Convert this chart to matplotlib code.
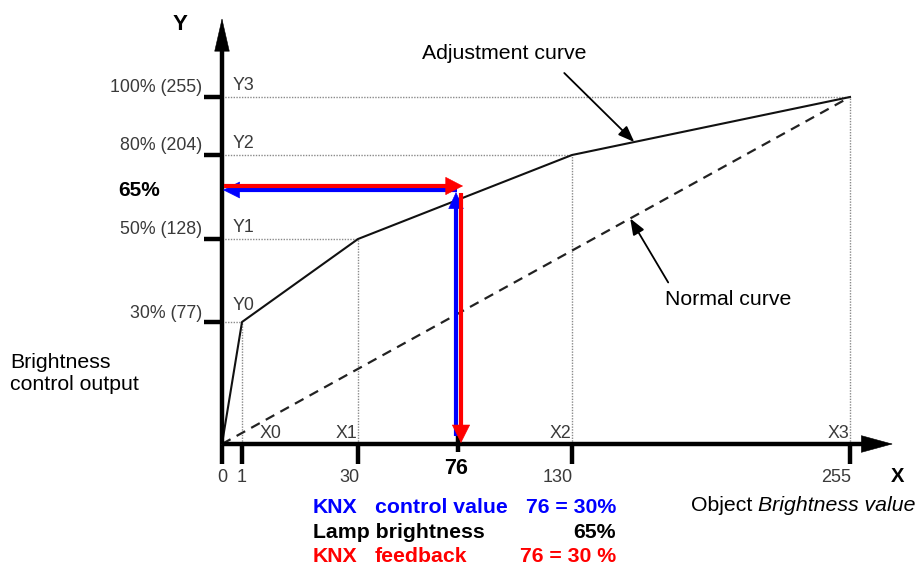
import numpy as np
import matplotlib
matplotlib.use("Agg")
import matplotlib.pyplot as plt
from matplotlib.transforms import ScaledTranslation
from matplotlib.ticker import NullLocator

plt.rcParams['font.family'] = ['Liberation Sans', 'DejaVu Sans']

# ---------------- data ----------------
x_ticks = [0, 1, 30, 130, 255]
x_tick_labels = ['0', '1', '30', '130', '255']
y_ticks = [77, 128, 204, 255]
y_tick_labels = ['30% (77)', '50% (128)', '80% (204)', '100% (255)']
adj_x = [0, 1, 30, 130, 255]          # adjustment curve (object value)
adj_y = [0, 77, 128, 204, 255]        # adjustment curve (output)
knot_names_x = ['X0', 'X1', 'X2', 'X3']
knot_names_y = ['Y0', 'Y1', 'Y2', 'Y3']
normal_x = [0, 255]
normal_y = [0, 255]
control_value = 76
lamp_pct = 65
lamp_y = lamp_pct / 100 * 255
legend_rows = [
    ('KNX', 'control value', '76 = 30%', '#0000ff'),
    ('Lamp brightness', '', '65%', '#000000'),
    ('KNX', 'feedback', '76 = 30 %', '#ff0000'),
]

# ---------------- schematic layout (non-linear axes of the drawing) ----------------
W, H = 920, 565
X_REF = [0, 1, 30, control_value, 130, 255]
X_PIX = [222, 242, 358, 458, 572, 850]
Y_REF = [0, 77, 128, lamp_y, 204, 255]
Y_PIX = [444, 322, 239, 188, 155, 97]


def piecewise(src, dst):
    src = np.asarray(src, float)
    dst = np.asarray(dst, float)
    lo_s = (dst[1] - dst[0]) / (src[1] - src[0])
    hi_s = (dst[-1] - dst[-2]) / (src[-1] - src[-2])

    def f(v):
        v = np.asarray(v, float)
        out = np.interp(v, src, dst)
        out = np.where(v < src[0], dst[0] + (v - src[0]) * lo_s, out)
        out = np.where(v > src[-1], dst[-1] + (v - src[-1]) * hi_s, out)
        return out
    return f


Y_H = [H - p for p in Y_PIX]
fx, ix = piecewise(X_REF, X_PIX), piecewise(X_PIX, X_REF)
fy, iy = piecewise(Y_REF, Y_H), piecewise(Y_H, Y_REF)

fig = plt.figure(figsize=(W / 100, H / 100), dpi=100)
ax = fig.add_axes([0, 0, 1, 1])
ax.set_xscale('function', functions=(fx, ix))
ax.set_yscale('function', functions=(fy, iy))
ax.set_xlim(float(ix(0)), float(ix(W)))
ax.set_ylim(float(iy(0)), float(iy(H)))


def off(dx, dy):
    return ax.transData + ScaledTranslation(dx / 100, dy / 100, fig.dpi_scale_trans)


def px(x, y):
    return x / W, 1 - y / H


def arrow(xy, xycoords, xytext, textcoords, color, lw, head_len, head_w, z):
    """thick shaft + crisp filled head (sizes in points)"""
    ax.annotate('', xy=xy, xycoords=xycoords, xytext=xytext, textcoords=textcoords,
                arrowprops=dict(arrowstyle='-', lw=lw, color=color, shrinkA=0,
                                shrinkB=head_len * 0.6, capstyle='butt'), zorder=z)
    ax.annotate('', xy=xy, xycoords=xycoords, xytext=xytext, textcoords=textcoords,
                arrowprops=dict(arrowstyle=f'-|>,head_length={head_len / 10},'
                                           f'head_width={head_w / 20}',
                                mutation_scale=10, lw=0.4, color=color,
                                shrinkA=0, shrinkB=0), zorder=z)


# ticks (marks only) on invisible spines at data 0
for s in ax.spines.values():
    s.set_visible(False)
ax.spines['left'].set_position(('data', 0))
ax.spines['bottom'].set_position(('data', 0))
ax.set_xticks(x_ticks)
ax.set_xticks([control_value], minor=True)
ax.set_yticks(y_ticks)
ax.yaxis.set_minor_locator(NullLocator())
ax.tick_params(axis='x', which='major', direction='out', length=14.4, width=3.2,
               color='k', labelbottom=False)
ax.tick_params(axis='x', which='minor', direction='inout', length=11, width=3.2,
               color='k', labelbottom=False)
ax.tick_params(axis='y', which='major', direction='out', length=13, width=3.2,
               color='k', labelleft=False)

grey = '#8a8a8a'
txt_grey = '#3a3a3a'

# dotted guide lines
for xv, yv in zip(adj_x[1:], adj_y[1:]):
    ax.plot([0, xv], [yv, yv], color=grey, lw=1.0, ls=(0, (1, 1)), zorder=1)
    ax.plot([xv, xv], [0, yv], color=grey, lw=1.0, ls=(0, (1, 1)), zorder=1)

# curves
ax.plot(adj_x, adj_y, color='#111111', lw=1.5, zorder=3)
ax.plot(normal_x, normal_y, color='#222222', lw=1.6, dashes=(4.4, 3.1), zorder=3)

# axis arrows
arrow((893 / W, 0), ('axes fraction', 'data'), (0, 0), 'data', 'k', 3.2, 22, 12, 4)
arrow((0, 1 - 18 / H), ('data', 'axes fraction'), (0, 0), 'data', 'k', 3.2, 23, 10.5, 4)

# tick labels
for yv, lab in zip(y_ticks, y_tick_labels):
    ax.annotate(lab, (0, yv), xytext=(-20, 9), textcoords='offset pixels',
                ha='right', va='center', fontsize=12.8, color=txt_grey)
for xv, lab in zip(x_ticks, x_tick_labels):
    ha = 'center' if xv <= 1 else 'right'
    dx = 0 if xv <= 1 else 1
    ax.annotate(lab, (xv, 0), xytext=(dx, -33), textcoords='offset pixels',
                ha=ha, va='center', fontsize=13, color=txt_grey)
ax.annotate(str(control_value), (control_value, 0), xytext=(-2, -25),
            textcoords='offset pixels', ha='center', va='center',
            fontsize=15.5, fontweight='bold', color='k')
ax.annotate(f'{lamp_pct}%', (0, lamp_y), xytext=(-83, -2), textcoords='offset pixels',
            ha='center', va='center', fontsize=15, fontweight='bold', color='k')

# knot names
for i, (yv, name) in enumerate(zip(adj_y[1:], knot_names_y)):
    ax.annotate(name, (0, yv), xytext=(11, 17 if i == 0 else 12),
                textcoords='offset pixels', ha='left', va='center',
                fontsize=12.8, color=txt_grey)
for i, (xv, name) in enumerate(zip(adj_x[1:], knot_names_x)):
    ha = 'left' if i == 0 else 'right'
    dx = 18 if i == 0 else -1
    ax.annotate(name, (xv, 0), xytext=(dx, 11), textcoords='offset pixels',
                ha=ha, va='center', fontsize=12.8, color=txt_grey)

# coloured value arrows
blue, red = '#0000ff', '#ff0000'
# blue: control value up to curve, then left to Y axis
arrow((control_value, lamp_y), off(-2, -4), (control_value, 0), off(-2, 8),
      blue, 3, 11.5, 10.5, 5)
arrow((0, lamp_y), off(1, -2), (control_value, lamp_y), off(-1, -2),
      blue, 3, 11.5, 11.5, 5)
# red: feedback from Y axis to curve, then down to X axis
arrow((control_value, lamp_y), off(5, 2), (0, lamp_y), off(2, 2),
      red, 3, 12, 12.5, 6)
arrow((control_value, 0), off(3, 1), (control_value, lamp_y), off(3, -5),
      red, 3, 12.5, 12.5, 6)

# annotation arrows
thin = dict(arrowstyle='-|>,head_length=0.65,head_width=0.25', mutation_scale=15,
            lw=1.3, color='k', shrinkA=0, shrinkB=0)
tx = 158
ty = float(np.interp(tx, adj_x, adj_y))
ax.annotate('', xy=(tx, ty), xytext=(-70, 69), textcoords='offset pixels', arrowprops=thin)
ax.annotate('Adjustment curve', xy=(tx, ty), xytext=(-130, 89), textcoords='offset pixels',
            ha='center', va='center', fontsize=15.3, color='k')

fig.canvas.draw()
p0 = ax.transData.transform((normal_x[0], normal_y[0]))
p1 = ax.transData.transform((normal_x[1], normal_y[1]))
tip = p0 + 0.65 * (p1 - p0)
ax.annotate('', xy=tuple(tip), xycoords='figure pixels', xytext=(38, -64),
            textcoords='offset pixels', arrowprops=thin)
ax.annotate('Normal curve', xy=tuple(tip), xycoords='figure pixels', xytext=(98, -81),
            textcoords='offset pixels', ha='center', va='center', fontsize=15.3, color='k')

# axis names
fig.text(*px(180, 25), 'Y', ha='center', va='center', fontsize=16, fontweight='bold')
fig.text(*px(898, 477), 'X', ha='center', va='center', fontsize=14.5, fontweight='bold')
fig.text(*px(10, 362), 'Brightness', ha='left', va='center', fontsize=15.3)
fig.text(*px(10, 385), 'control output', ha='left', va='center', fontsize=15.3)
t_obj = fig.text(*px(691, 511), 'Object ', ha='left', va='baseline', fontsize=15.3)
ax.annotate('Brightness value', xy=(1, 0), xycoords=t_obj, ha='left', va='bottom',
            fontsize=15.3, style='italic')

# bottom legend
for (a, b, c, col), yb in zip(legend_rows, [513, 537.5, 561.5]):
    fig.text(*px(313, yb), a, ha='left', va='baseline', fontsize=15.3,
             fontweight='bold', color=col)
    if b:
        fig.text(*px(375, yb), b, ha='left', va='baseline', fontsize=15.3,
                 fontweight='bold', color=col)
    fig.text(*px(616, yb), c, ha='right', va='baseline', fontsize=15.3,
             fontweight='bold', color=col)

fig.savefig('out.png', dpi=100)
